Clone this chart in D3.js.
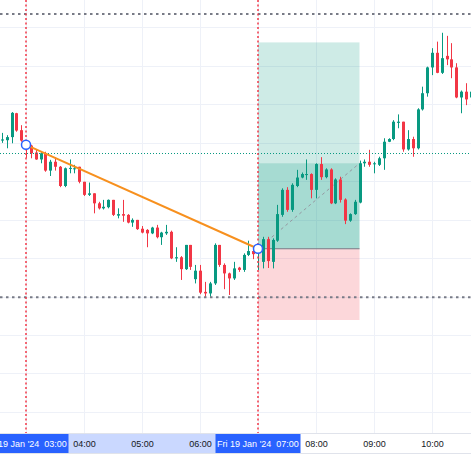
<!DOCTYPE html>
<html>
<head>
<meta charset="utf-8">
<script src="https://cdn.jsdelivr.net/npm/d3@7"></script>
<style>
  body { margin: 0; background: #fff; }
  svg { display: block; font-family: "Liberation Sans", Arial, sans-serif; }
  .axis-label { font-size: 9px; fill: #131722; }
  .time-flag { font-size: 9px; fill: #fff; white-space: pre; }
</style>
</head>
<body>
<div id="chart"></div>
<script>
// 5 minute bars, 19 Jan 2024, first visible bar at 02:35
const firstBar = new Date(2024, 0, 19, 2, 35);
const barMinutes = 5;

const opens = [140.5, 140.6, 141.4, 147.6, 143.2, 140.1, 139.2, 137.4, 135.6, 137.2,
  132.7, 135.0, 133.7, 128.7, 133.2, 133.2, 133.7, 129.8, 126.4, 126.8,
  124.2, 122.9, 123.2, 125.1, 121.0, 121.4, 121.2, 119.2, 119.9, 117.6,
  117.3, 116.4, 117.9, 115.4, 116.4, 116.8, 109.9, 110.2, 107.1, 113.4,
  104.5, 106.7, 101.2, 100.8, 103.4, 113.4, 108.2, 106.0, 104.7, 107.5,
  106.9, 110.8, 111.8, 111.6, 109.0, 114.9, 109.0, 114.5, 121.2, 127.7,
  122.5, 128.7, 130.9, 131.6, 131.8, 127.7, 134.4, 131.0, 133.0, 124.2,
  130.4, 125.2, 119.7, 121.4, 124.4, 134.6, 135.0, 134.4, 134.2, 135.9,
  140.2, 140.9, 145.1, 145.4, 138.2, 140.9, 138.5, 148.6, 152.8, 159.5,
  163.3, 158.1, 162.5, 161.6, 159.5, 151.7, 153.2, 151.7];
const highs = [142.5, 141.9, 147.9, 147.7, 144.5, 140.4, 139.4, 138.1, 137.6, 137.6,
  135.5, 136.2, 133.9, 133.5, 135.6, 134.2, 133.7, 129.8, 129.6, 126.8,
  124.6, 125.1, 125.2, 125.1, 122.9, 125.1, 121.4, 120.3, 119.9, 118.3,
  117.5, 118.1, 118.6, 116.8, 118.6, 117.1, 112.8, 110.5, 113.4, 113.4,
  108.2, 108.2, 103.8, 103.8, 113.8, 113.4, 108.6, 106.2, 109.0, 107.7,
  111.2, 114.5, 112.3, 113.4, 115.5, 115.5, 115.1, 123.8, 128.1, 128.4,
  129.4, 132.9, 132.2, 135.6, 132.0, 134.6, 136.2, 133.3, 133.3, 130.7,
  131.1, 125.5, 121.6, 125.1, 135.3, 135.6, 138.1, 135.0, 136.3, 141.1,
  141.1, 145.8, 147.3, 145.4, 143.2, 141.5, 148.9, 154.5, 159.7, 164.5,
  166.2, 168.5, 167.7, 165.8, 160.6, 153.5, 155.4, 153.6];
const lows = [139.9, 138.5, 139.8, 142.8, 140.2, 136.0, 135.9, 135.5, 134.6, 132.4,
  131.3, 132.7, 128.4, 128.4, 132.0, 132.0, 129.4, 126.1, 126.1, 121.6,
  122.6, 122.6, 122.9, 120.9, 120.3, 119.4, 119.0, 118.1, 117.3, 116.4,
  112.8, 116.2, 115.1, 113.4, 116.0, 109.7, 109.0, 104.3, 106.9, 106.9,
  103.4, 100.6, 99.9, 99.9, 103.0, 107.7, 101.9, 100.4, 104.3, 106.4,
  106.4, 110.5, 109.7, 106.9, 107.3, 107.4, 107.3, 114.2, 120.7, 122.0,
  122.0, 128.4, 130.7, 130.3, 125.5, 125.5, 130.3, 130.7, 124.0, 124.0,
  124.4, 118.8, 119.4, 121.2, 124.2, 133.7, 133.7, 132.0, 133.9, 132.9,
  140.1, 140.6, 143.7, 137.6, 137.9, 136.3, 138.2, 148.3, 151.9, 157.5,
  158.0, 157.8, 160.1, 156.7, 151.5, 147.6, 149.7, 151.0];
const closes = [140.8, 141.4, 147.7, 143.1, 140.5, 138.8, 137.2, 135.6, 137.2, 132.7,
  135.0, 133.7, 128.7, 133.3, 133.4, 133.3, 129.8, 126.4, 126.8, 124.2,
  122.9, 123.3, 125.1, 121.2, 121.4, 121.0, 119.2, 119.9, 117.5, 116.6,
  116.4, 117.9, 115.4, 116.6, 116.8, 109.9, 110.2, 107.1, 113.4, 107.7,
  106.7, 101.0, 100.8, 103.4, 113.4, 108.2, 106.0, 104.7, 107.3, 106.9,
  110.8, 111.8, 111.0, 112.6, 114.9, 109.2, 114.7, 121.4, 127.7, 122.5,
  129.0, 130.9, 131.8, 131.8, 127.7, 134.4, 131.0, 133.0, 124.2, 130.4,
  125.1, 119.7, 121.4, 124.6, 134.6, 135.0, 134.2, 134.6, 135.9, 140.2,
  140.9, 145.4, 145.4, 138.2, 140.9, 138.5, 148.6, 152.8, 159.5, 163.3,
  158.1, 161.9, 161.6, 159.5, 151.7, 153.2, 151.2, 153.2];

// axis ticks and grid
const timeTicks = ["04:00", "05:00", "06:00", "08:00", "09:00", "10:00"];
const gridTimes = ["03:00", "04:00", "05:00", "06:00", "07:00", "08:00", "09:00", "10:00"];
const gridPrices = [70, 80, 90, 100, 110, 120, 130, 140, 150, 160, 170];

// drawings
const markedTimes = ["03:00", "07:00"];
const levelPrices = [173.4, 99.8];
const lastPrice = 137.2;
const trendFrom = ["03:00", 139.4];
const trendTo = ["07:00", 112.4];
const positionStart = "07:00";
const positionEnd = "08:45";
const entryPrice = 112.4;
const targetPrice = 166.0;
const stopPrice = 93.9;
const positionClose = 134.6;

const width = 471, height = 459;
const paneHeight = 433;
const up = "#089981", down = "#f23645";

const at = hm => {
  const [h, m] = hm.split(":").map(Number);
  return new Date(2024, 0, 19, h, m);
};

const bars = opens.map((o, i) => ({
  time: new Date(+firstBar + i * barMinutes * 60000),
  open: o, high: highs[i], low: lows[i], close: closes[i]
}));

const svg = d3.select("#chart")
  .append("svg")
  .attr("width", width)
  .attr("height", height);

const x = d3.scaleTime()
  .domain([at("03:00"), at("07:00")])
  .range([26, 258]);

const y = d3.scaleLinear()
  .domain([100, 170])
  .range([296.5, 27]);

const pane = svg.append("g");

// grid
pane.selectAll(".vgrid")
  .data(gridTimes)
  .join("line")
  .attr("x1", d => Math.round(x(at(d))) + 0.5)
  .attr("x2", d => Math.round(x(at(d))) + 0.5)
  .attr("y1", 0)
  .attr("y2", paneHeight)
  .attr("stroke", "#eef1f8");

pane.selectAll(".hgrid")
  .data(gridPrices)
  .join("line")
  .attr("x1", 0)
  .attr("x2", width)
  .attr("y1", d => Math.round(y(d)) + 0.5)
  .attr("y2", d => Math.round(y(d)) + 0.5)
  .attr("stroke", "#eef1f8");

// long position box
const bx0 = x(at(positionStart)), bx1 = x(at(positionEnd));
pane.append("rect")
  .attr("x", bx0).attr("width", bx1 - bx0)
  .attr("y", y(targetPrice)).attr("height", y(entryPrice) - y(targetPrice))
  .attr("fill", up).attr("fill-opacity", 0.2);
pane.append("rect")
  .attr("x", bx0).attr("width", bx1 - bx0)
  .attr("y", y(positionClose)).attr("height", y(entryPrice) - y(positionClose))
  .attr("fill", up).attr("fill-opacity", 0.2);
pane.append("rect")
  .attr("x", bx0).attr("width", bx1 - bx0)
  .attr("y", y(entryPrice)).attr("height", y(stopPrice) - y(entryPrice))
  .attr("fill", down).attr("fill-opacity", 0.2);
pane.append("line")
  .attr("x1", bx0).attr("x2", bx1)
  .attr("y1", y(entryPrice)).attr("y2", y(entryPrice))
  .attr("stroke", "#787b86").attr("stroke-width", 1.2);
pane.append("line")
  .attr("x1", bx0).attr("x2", bx1)
  .attr("y1", y(entryPrice)).attr("y2", y(positionClose))
  .attr("stroke", "#9598a1").attr("stroke-width", 1)
  .attr("stroke-dasharray", "3,3");

// candles
const candle = pane.selectAll(".candle")
  .data(bars)
  .join("g")
  .attr("transform", d => `translate(${Math.round(x(d.time)) + 0.5},0)`);

candle.append("line")
  .attr("y1", d => y(d.high))
  .attr("y2", d => y(d.low))
  .attr("stroke", d => d.close >= d.open ? up : down);

candle.append("rect")
  .attr("x", -1.5)
  .attr("width", 3)
  .attr("y", d => y(Math.max(d.open, d.close)))
  .attr("height", d => Math.max(1, Math.abs(y(d.open) - y(d.close))))
  .attr("fill", d => d.close >= d.open ? up : down);

// last price line
pane.append("line")
  .attr("x1", 0).attr("x2", width)
  .attr("y1", Math.round(y(lastPrice)) + 0.5).attr("y2", Math.round(y(lastPrice)) + 0.5)
  .attr("stroke", up)
  .attr("stroke-dasharray", "1,2");

// horizontal levels
pane.selectAll(".level")
  .data(levelPrices)
  .join("line")
  .attr("x1", 0).attr("x2", width)
  .attr("y1", d => y(d)).attr("y2", d => y(d))
  .attr("stroke", "#787b86")
  .attr("stroke-width", 2)
  .attr("stroke-dasharray", "2.5,3.5");

// vertical markers
pane.selectAll(".marker")
  .data(markedTimes)
  .join("line")
  .attr("x1", d => x(at(d))).attr("x2", d => x(at(d)))
  .attr("y1", 0).attr("y2", paneHeight)
  .attr("stroke", down)
  .attr("stroke-opacity", 0.75)
  .attr("stroke-width", 2)
  .attr("stroke-dasharray", "2,2.5");

// trend line with handles
const trendPts = [trendFrom, trendTo].map(([t, p]) => [x(at(t)), y(p)]);
pane.append("line")
  .attr("x1", trendPts[0][0]).attr("y1", trendPts[0][1])
  .attr("x2", trendPts[1][0]).attr("y2", trendPts[1][1])
  .attr("stroke", "#f7901e")
  .attr("stroke-width", 2);
pane.selectAll(".handle")
  .data(trendPts)
  .join("circle")
  .attr("cx", d => d[0]).attr("cy", d => d[1])
  .attr("r", 4.5)
  .attr("fill", "#fff")
  .attr("stroke", "#2962ff")
  .attr("stroke-width", 1.5);

// time axis
const axisY = paneHeight;
svg.append("line")
  .attr("x1", 0).attr("x2", width)
  .attr("y1", axisY + 0.5).attr("y2", axisY + 0.5)
  .attr("stroke", "#e0e3eb");

const flagW = 85, bandTop = 434, bandH = 19;
const flagX = markedTimes.map(t => x(at(t)));

svg.append("rect")
  .attr("x", flagX[0]).attr("width", flagX[1] - flagX[0])
  .attr("y", bandTop).attr("height", bandH)
  .attr("fill", "#cad8ff");

const bottomAxis = d3.axisBottom(x)
  .tickValues(timeTicks.map(at))
  .tickFormat(d3.timeFormat("%H:%M"))
  .tickSize(0)
  .tickPadding(0);

svg.append("g")
  .attr("transform", `translate(0, ${bandTop})`)
  .call(bottomAxis)
  .call(g => g.select(".domain").remove())
  .call(g => g.selectAll("text")
    .attr("class", "axis-label")
    .attr("dy", null)
    .attr("y", bandH / 2)
    .attr("dominant-baseline", "central")
    .attr("font-family", null)
    .attr("font-size", null));

const flagFormat = d => d3.timeFormat("%a %d %b '%y")(d) + "  " + d3.timeFormat("%H:%M")(d);
const flags = svg.selectAll(".flag")
  .data(markedTimes)
  .join("g")
  .attr("transform", d => `translate(${x(at(d))}, ${bandTop})`);
flags.append("rect")
  .attr("x", -flagW / 2)
  .attr("width", flagW)
  .attr("height", bandH)
  .attr("fill", "#2962ff");
flags.append("text")
  .attr("class", "time-flag")
  .attr("text-anchor", "middle")
  .attr("y", bandH / 2)
  .attr("dominant-baseline", "central")
  .text(d => flagFormat(at(d)));

svg.append("line")
  .attr("x1", 0).attr("x2", width)
  .attr("y1", bandTop + bandH + 0.5).attr("y2", bandTop + bandH + 0.5)
  .attr("stroke", "#e0e3eb");
</script>
</body>
</html>
